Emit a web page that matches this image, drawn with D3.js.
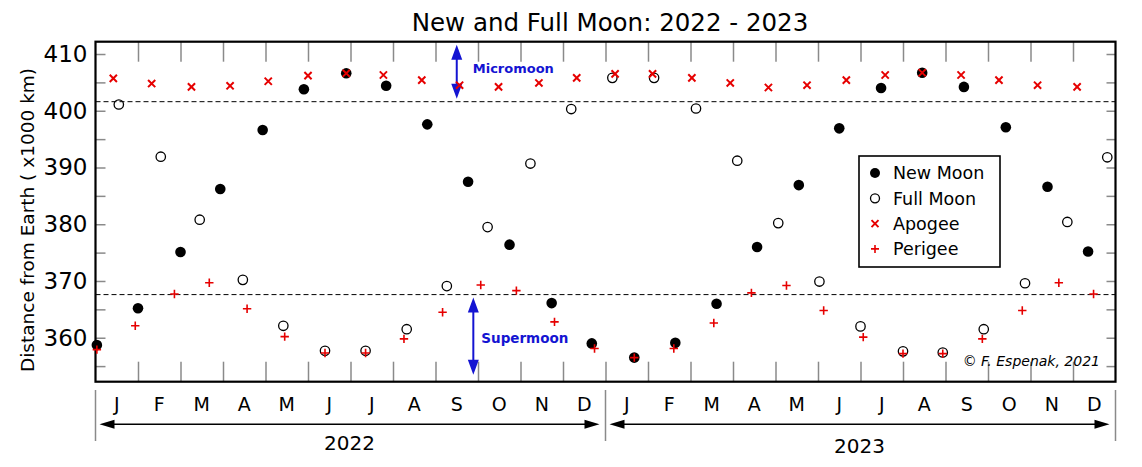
<!DOCTYPE html>
<html>
<head>
<meta charset="utf-8">
<script src="https://cdn.jsdelivr.net/npm/d3@7"></script>
<style>
body{margin:0;background:#fff}
text{font-family:"DejaVu Sans",sans-serif}
</style>
</head>
<body>
<div id="main"></div>
<script>
// values, distance in 1000 km
const newMoonDates = ["2022-01-02","2022-02-01","2022-03-01","2022-03-30","2022-04-29","2022-05-29","2022-06-28","2022-07-27","2022-08-26","2022-09-24","2022-10-24","2022-11-23","2022-12-22","2023-01-22","2023-02-19","2023-03-20","2023-04-18","2023-05-18","2023-06-16","2023-07-16","2023-08-15","2023-09-14","2023-10-14","2023-11-13","2023-12-12"]
const newMoonDist = [358.7,365.2,375.1,386.2,396.6,403.8,406.6,404.4,397.6,387.5,376.4,366.1,359.0,356.5,359.1,366.0,376.0,386.9,396.9,404.0,406.7,404.2,397.1,386.6,375.2]

const fullMoonDates = ["2022-01-18","2022-02-16","2022-03-15","2022-04-15","2022-05-14","2022-06-13","2022-07-12","2022-08-11","2022-09-09","2022-10-08","2022-11-08","2022-12-07","2023-01-06","2023-02-05","2023-03-05","2023-04-04","2023-05-03","2023-06-02","2023-07-01","2023-08-01","2023-08-30","2023-09-28","2023-10-28","2023-11-27","2023-12-26"]
const fullMoonDist = [401.1,391.9,380.8,370.2,362.1,357.7,357.7,361.5,369.1,379.5,390.7,400.3,405.8,405.8,400.4,391.2,380.2,369.9,362.0,357.6,357.4,361.5,369.6,380.4,391.8]

const apogeeDates = ["2022-01-14","2022-02-10","2022-03-09","2022-04-06","2022-05-03","2022-06-01","2022-06-28","2022-07-25","2022-08-22","2022-09-18","2022-10-16","2022-11-14","2022-12-11","2023-01-08","2023-02-04","2023-03-02","2023-03-30","2023-04-26","2023-05-24","2023-06-21","2023-07-19","2023-08-15","2023-09-12","2023-10-09","2023-11-06","2023-12-04"]
const apogeeDist = [405.7,404.8,404.2,404.4,405.2,406.2,406.6,406.3,405.4,404.5,404.2,404.9,405.8,406.5,406.5,405.8,404.9,404.1,404.5,405.4,406.3,406.7,406.3,405.4,404.5,404.2]

const perigeeDates = ["2022-01-02","2022-01-30","2022-02-25","2022-03-22","2022-04-18","2022-05-15","2022-06-13","2022-07-12","2022-08-09","2022-09-06","2022-10-03","2022-10-29","2022-11-25","2022-12-24","2023-01-22","2023-02-18","2023-03-18","2023-04-14","2023-05-09","2023-06-05","2023-07-03","2023-08-01","2023-08-30","2023-09-27","2023-10-26","2023-11-21","2023-12-16"]
const perigeeDist = [357.9,362.1,367.7,369.7,365.1,360.2,357.3,357.3,359.8,364.5,369.3,368.3,362.8,358.1,356.5,358.1,362.6,367.9,369.2,364.8,360.1,357.2,357.2,359.8,364.8,369.7,367.7]

const monthLetters = ["J","F","M","A","M","J","J","A","S","O","N","D"]
const years = ["2022","2023"]
const yTicks = [355,360,365,370,375,380,385,390,395,400,405,410]
const microLimit = 401.6
const superLimit = 367.6

const chart = {
    left:95.5, right:1115.5, top:41.7, bottom:381.7,
    red:"#e60000", blue:"#1414d2", gray:"#8a8a8a"
}

// month index since Jan 2022, with day fraction
function monthIndex(s)
{
    let p = s.split("-").map(Number)
    let days = new Date(p[0], p[1], 0).getDate()
    return (p[0]-2022)*12 + (p[1]-1) + (p[2]-1)/days
}

function pairs(dates, dist)
{
    return dates.map((d,i) => ({m:monthIndex(d), v:dist[i]}))
}

function initViz()
{
    let svg = d3.select("#main").append("svg")
        .attr("width",1142).attr("height",467)

    chart.x = d3.scaleLinear().domain([0,24]).range([chart.left, chart.right])
    chart.y = d3.scaleLinear().domain([352.25,412.17]).range([chart.bottom, chart.top])

    drawAxes(svg)
    drawMarks(svg)
    drawLegend(svg)
    drawBottom(svg)
}

function drawAxes(svg)
{
    let x = chart.x, y = chart.y

    svg.append("text")
        .text("New and Full Moon: 2022 - 2023")
        .attr("x",610).attr("y",31)
        .attr("text-anchor","middle")
        .style("font-size","24.5px")

    svg.append("text")
        .text("Distance from Earth ( x1000 km)")
        .attr("transform","translate(34,220) rotate(-90)")
        .attr("text-anchor","middle")
        .style("font-size","18.5px")

    let left = svg.append("g")
        .attr("transform","translate("+chart.left+",0)")
        .call(d3.axisLeft(y).tickValues(yTicks).tickSize(-10).tickPadding(8)
            .tickFormat(d => d%10==0 ? d : ""))
    left.select(".domain").remove()
    left.selectAll("line").attr("stroke",chart.gray).attr("stroke-width",1.5)
    left.selectAll("text").style("font-size","23px").attr("fill","#000")
        .style("font-family","DejaVu Sans")

    let right = svg.append("g")
        .attr("transform","translate("+chart.right+",0)")
        .call(d3.axisRight(y).tickValues(yTicks).tickSize(-9).tickFormat(""))
    right.select(".domain").remove()
    right.selectAll("line").attr("stroke",chart.gray).attr("stroke-width",1.5)

    let monthTicks = d3.range(1,24)
    let top = svg.append("g")
        .attr("transform","translate(0,"+chart.top+")")
        .call(d3.axisTop(x).tickValues(monthTicks).tickSize(-20).tickFormat(""))
    top.select(".domain").remove()
    top.selectAll("line").attr("stroke",chart.gray).attr("stroke-width",1.5)

    let bottom = svg.append("g")
        .attr("transform","translate(0,"+chart.bottom+")")
        .call(d3.axisBottom(x).tickValues(monthTicks).tickSize(-20).tickFormat(""))
    bottom.select(".domain").remove()
    bottom.selectAll("line").attr("stroke",chart.gray).attr("stroke-width",1.5)

    // threshold lines
    svg.selectAll(".limit")
        .data([microLimit, superLimit])
        .enter()
        .append("line")
        .attr("x1",chart.left).attr("x2",chart.right)
        .attr("y1",d => y(d)).attr("y2",d => y(d))
        .attr("stroke","#000").attr("stroke-width",1)
        .attr("stroke-dasharray","5,3")

    svg.append("rect")
        .attr("x",chart.left).attr("y",chart.top)
        .attr("width",chart.right-chart.left).attr("height",chart.bottom-chart.top)
        .attr("fill","none").attr("stroke","#000").attr("stroke-width",2.2)

    // micromoon / supermoon arrows
    vArrow(svg, x(8.5), chart.top+3, y(microLimit)-3)
    svg.append("text").text("Micromoon")
        .attr("x",x(8.5)+16).attr("y",73)
        .attr("fill",chart.blue).style("font-weight","bold").style("font-size","13px")

    vArrow(svg, x(8.89), y(superLimit)+3, chart.bottom-7)
    svg.append("text").text("Supermoon")
        .attr("x",x(8.89)+8).attr("y",343)
        .attr("fill",chart.blue).style("font-weight","bold").style("font-size","13.5px")

    svg.append("text").text("\u00a9 F. Espenak, 2021")
        .attr("x",1100).attr("y",366)
        .attr("text-anchor","end")
        .style("font-style","italic").style("font-size","14px")
}

function vArrow(svg, xp, y1, y2)
{
    svg.append("line")
        .attr("x1",xp).attr("x2",xp).attr("y1",y1+10).attr("y2",y2-10)
        .attr("stroke",chart.blue).attr("stroke-width",2)
    svg.append("path")
        .attr("d","M"+xp+","+y1+"l-5.5,15h11z M"+xp+","+y2+"l-5.5,-15h11z")
        .attr("fill",chart.blue)
}

function drawMarks(svg)
{
    let x = chart.x, y = chart.y

    svg.append("g").selectAll("circle")
        .data(pairs(newMoonDates, newMoonDist))
        .enter()
        .append("circle")
        .attr("cx",d => x(d.m)).attr("cy",d => y(d.v))
        .attr("r",5.3).attr("fill","#000")

    svg.append("g").selectAll("circle")
        .data(pairs(fullMoonDates, fullMoonDist))
        .enter()
        .append("circle")
        .attr("cx",d => x(d.m)).attr("cy",d => y(d.v))
        .attr("r",4.7).attr("fill","none").attr("stroke","#000").attr("stroke-width",1.3)

    svg.append("g").selectAll("path")
        .data(pairs(apogeeDates, apogeeDist))
        .enter()
        .append("path")
        .attr("d",d => "M"+(x(d.m)-3.6)+","+(y(d.v)-3.6)+"l7.2,7.2m0,-7.2l-7.2,7.2")
        .attr("stroke",chart.red).attr("stroke-width",2)

    svg.append("g").selectAll("path")
        .data(pairs(perigeeDates, perigeeDist))
        .enter()
        .append("path")
        .attr("d",d => "M"+(x(d.m)-4.2)+","+y(d.v)+"h8.4m-4.2,-4.2v8.4")
        .attr("stroke",chart.red).attr("stroke-width",1.6)
}

function drawLegend(svg)
{
    let g = svg.append("g").attr("transform","translate(859,156)")
    g.append("rect")
        .attr("width",141).attr("height",111)
        .attr("fill","#fff").attr("stroke","#000").attr("stroke-width",1.6)

    let items = ["New Moon","Full Moon","Apogee","Perigee"]
    let rows = g.selectAll(".item")
        .data(items)
        .enter()
        .append("g")
        .attr("transform",(d,i) => "translate(16,"+(17+i*25.3)+")")

    rows.append("text")
        .text(d => d)
        .attr("x",18).attr("dy","0.36em")
        .style("font-size","17.5px")

    rows.filter((d,i) => i==0).append("circle").attr("r",5).attr("fill","#000")
    rows.filter((d,i) => i==1).append("circle").attr("r",4.5)
        .attr("fill","none").attr("stroke","#000").attr("stroke-width",1.3)
    rows.filter((d,i) => i==2).append("path").attr("d","M-3.5,-3.5l7,7m0,-7l-7,7")
        .attr("stroke",chart.red).attr("stroke-width",2)
    rows.filter((d,i) => i==3).append("path").attr("d","M-4,0h8m-4,-4v8")
        .attr("stroke",chart.red).attr("stroke-width",1.6)
}

function drawBottom(svg)
{
    let x = chart.x

    let months = d3.range(24)
    svg.selectAll(".month")
        .data(months)
        .enter()
        .append("text")
        .text(d => monthLetters[d%12])
        .attr("x",d => x(d+0.5)).attr("y",404).attr("dy","0.36em")
        .attr("text-anchor","middle")
        .style("font-size","19px")

    svg.selectAll(".sep")
        .data([0,12,24])
        .enter()
        .append("line")
        .attr("x1",d => x(d)).attr("x2",d => x(d))
        .attr("y1",390).attr("y2",441)
        .attr("stroke",chart.gray).attr("stroke-width",1.5)

    years.forEach((yr,i) => {
        let a = x(i*12)+4, b = x(i*12+12)-6
        svg.append("line")
            .attr("x1",a+10).attr("x2",b-10).attr("y1",424.3).attr("y2",424.3)
            .attr("stroke","#000").attr("stroke-width",1.5)
        svg.append("path")
            .attr("d","M"+a+",424.3l15,-4.5v9z M"+b+",424.3l-15,-4.5v9z")
            .attr("fill","#000")
        svg.append("text")
            .text(yr)
            .attr("x",(a+b)/2).attr("y",443+i*3).attr("dy","0.36em")
            .attr("text-anchor","middle")
            .style("font-size","20px")
    })
}

initViz()
</script>
</body>
</html>
